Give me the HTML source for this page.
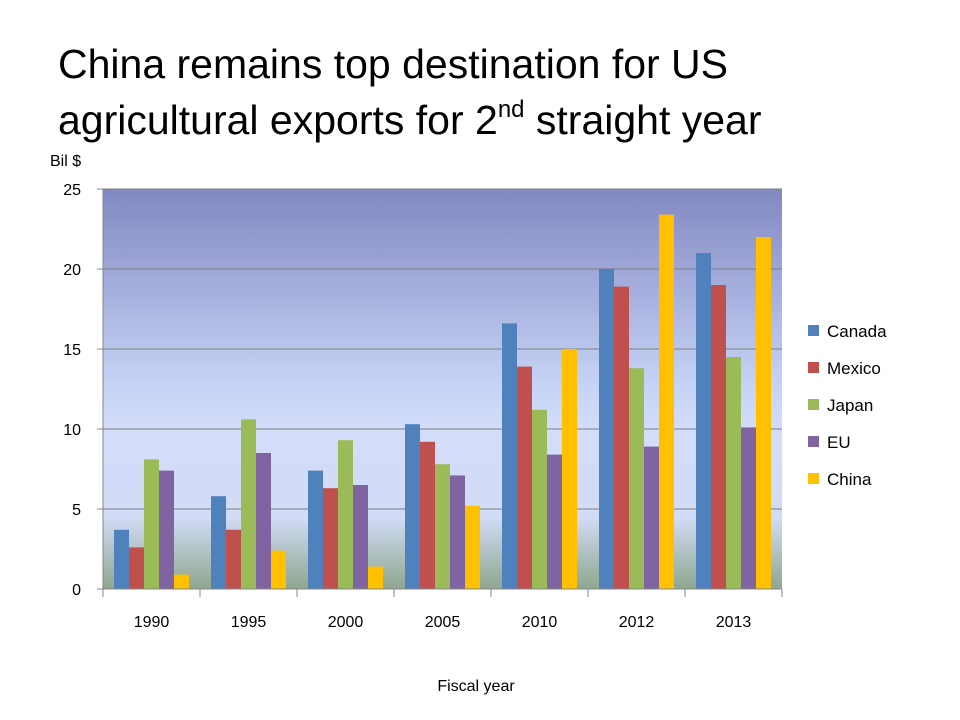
<!DOCTYPE html>
<html><head><meta charset="utf-8"><style>
body{margin:0;background:#fff;font-family:"Liberation Sans",sans-serif;}
#wrap{position:relative;width:960px;height:720px;overflow:hidden;background:#fff;}
#title{position:absolute;left:58px;top:36px;font-size:41px;line-height:56px;color:#000;}
sup{font-size:24px;vertical-align:17px;line-height:0;}
</style></head><body>
<div id="wrap">
<div id="title">China remains top destination for US<br>agricultural exports for 2<sup>nd</sup> straight year</div>
<svg id="chart" width="960" height="720" style="position:absolute;left:0;top:0">
<defs><linearGradient id="bg" x1="0" y1="0" x2="0" y2="1">
<stop offset="0" stop-color="#8288c2"/><stop offset="0.5" stop-color="#c8d4f6"/><stop offset="0.6" stop-color="#d3ddfa"/><stop offset="0.82" stop-color="#d2dcf6"/><stop offset="1" stop-color="#8fa68f"/></linearGradient></defs>
</svg>
</div>
<script>
const categories=["1990","1995","2000","2005","2010","2012","2013"];
const seriesNames=["Canada","Mexico","Japan","EU","China"];
const canada=[3.7,5.8,7.4,10.3,16.6,20.0,21.0];
const mexico=[2.6,3.7,6.3,9.2,13.9,18.9,19.0];
const japan=[8.1,10.6,9.3,7.8,11.2,13.8,14.5];
const eu=[7.4,8.5,6.5,7.1,8.4,8.9,10.1];
const china=[0.9,2.4,1.4,5.2,15.0,23.4,22.0];
const yTicks=[0,5,10,15,20,25];
const colors=["#4f81bd","#c0504d","#9bbb59","#8064a2","#ffc000"];
const series=[canada,mexico,japan,eu,china];
const svg=document.getElementById('chart');const NS="http://www.w3.org/2000/svg";
const L=103,R=782,T=189,B=589,yMax=25;
const cw=(R-L)/categories.length;
const y=v=>B-(v/yMax)*(B-T);
const x=i=>L+i*cw;
function mk(t,a){const e=document.createElementNS(NS,t);for(const k in a)e.setAttribute(k,a[k]);svg.appendChild(e);return e;}
let e=mk('rect',{x:L,y:T,width:R-L,height:B-T,fill:'url(#bg)'});


yTicks.forEach(t=>{
 if(t>0){const g=mk('line',{x1:L,x2:R,y1:y(t),y2:y(t),stroke:'#7f7f7f','stroke-width':1});
 
 }
 const tk=mk('line',{x1:L-6,x2:L,y1:y(t),y2:y(t),stroke:'#868686'});
 
 
 const tx=mk('text',{x:L-22,y:y(t)+6,'text-anchor':'end','font-size':16});tx.textContent=t;
 
 
});
const bw=15,pad=11;
categories.forEach((c,i)=>{
 series.forEach((s,j)=>{
  const r=mk('rect',{x:x(i)+pad+j*bw,y:y(s[i]),width:bw,height:B-y(s[i]),fill:colors[j]});
  
  
 });
 const tx=mk('text',{x:x(i)+cw/2,y:627,'text-anchor':'middle','font-size':16});tx.textContent=c;
 
 
});
for(let i=0;i<=categories.length;i++){const tk=mk('line',{x1:x(i),x2:x(i),y1:B,y2:B+8,stroke:'#868686'});
 
 }
e=mk('line',{x1:L,x2:L,y1:T,y2:B,stroke:'#868686'});


e=mk('line',{x1:L,x2:R,y1:B,y2:B,stroke:'#868686'});


seriesNames.forEach((n,j)=>{
 const yy=331+j*37;
 const r=mk('rect',{x:808,y:yy-6,width:11,height:11,fill:colors[j]});
 
 
 const t=mk('text',{x:827,y:yy+6,'font-size':17});t.textContent=n;
 
 
});
e=mk('text',{x:50,y:166,'font-size':16});e.textContent='Bil $';


e=mk('text',{x:476,y:691,'text-anchor':'middle','font-size':16});e.textContent='Fiscal year';


</script>
</body></html>
